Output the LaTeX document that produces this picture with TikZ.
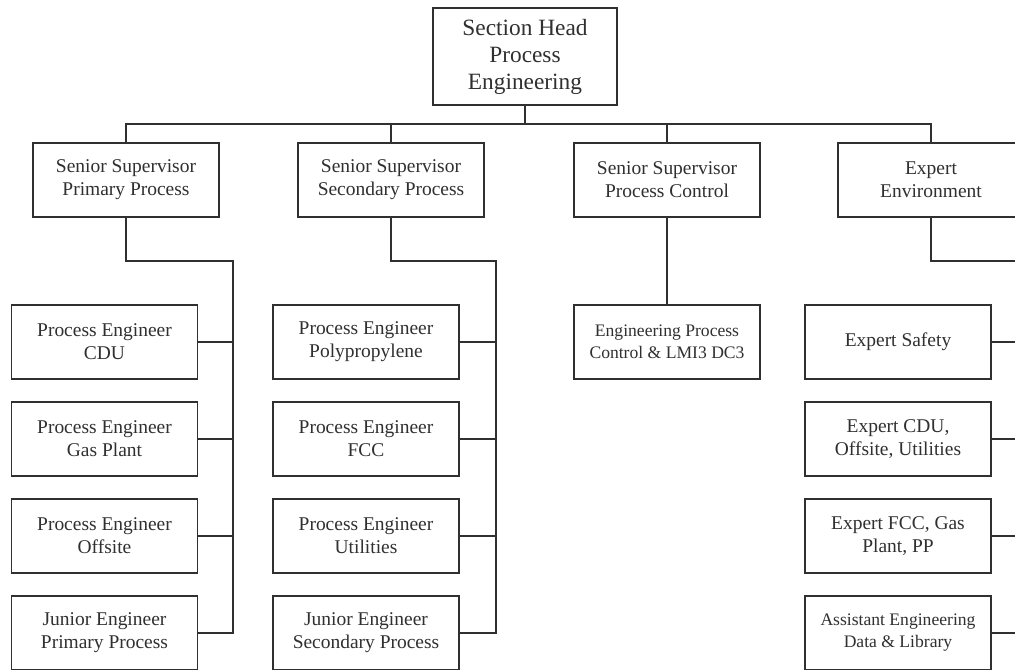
\documentclass[tikz,border=0pt]{standalone}
\usepackage{fontspec}
\setmainfont{Liberation Serif}
\definecolor{ink}{HTML}{303030}
\tikzset{
  post/.style={draw=ink, line width=1.4pt, fill=white, text=ink, align=center, inner sep=0pt,
    minimum width=139.5pt, minimum height=55.5pt, font=\fontsize{14.6}{17.3}\selectfont},
  smallpost/.style={post, font=\fontsize{13.2}{16.5}\selectfont},
  link/.style={draw=ink, line width=1.4pt}
}
\begin{document}
\begin{tikzpicture}[x=0.75pt,y=-0.75pt]
  \clip (0,0) rectangle (1015,669);
  \fill[white] (0,0) rectangle (1015,669);

  \node[post, minimum width=138pt, minimum height=72.75pt, font=\fontsize{17.5}{20.3}\selectfont]
    (head) at (525,56.5) {Section Head\\Process\\Engineering};

  \node[post] (supA) at (126,180) {Senior Supervisor\\Primary Process};
  \node[post] (supB) at (391,180) {Senior Supervisor\\Secondary Process};
  \node[post] (supC) at (667,180) {Senior Supervisor\\Process Control};
  \node[post] (supD) at (931,180) {Expert\\Environment};

  \node[post] (peA1) at (104.5,342) {Process Engineer\\CDU};
  \node[post] (peA2) at (104.5,439) {Process Engineer\\Gas Plant};
  \node[post] (peA3) at (104.5,536) {Process Engineer\\Offsite};
  \node[post] (peA4) at (104.5,633) {Junior Engineer\\Primary Process};

  \node[post] (peB1) at (366,342) {Process Engineer\\Polypropylene};
  \node[post] (peB2) at (366,439) {Process Engineer\\FCC};
  \node[post] (peB3) at (366,536) {Process Engineer\\Utilities};
  \node[post] (peB4) at (366,633) {Junior Engineer\\Secondary Process};

  \node[smallpost] (epc) at (667,342) {Engineering Process\\Control \& LMI3 DC3};

  \node[post] (exD1) at (898,342) {Expert Safety};
  \node[post] (exD2) at (898,439) {Expert CDU,\\Offsite, Utilities};
  \node[post] (exD3) at (898,536) {Expert FCC, Gas\\Plant, PP};
  \node[smallpost] (exD4) at (898,633) {Assistant Engineering\\Data \& Library};

  \coordinate (bus) at (525,124);
  \draw[link] (head) -- (bus);
  \draw[link] (supA.north) |- (bus) -| (supD.north);
  \draw[link] (supB.north) -- (supB.north |- bus);
  \draw[link] (supC.north) -- (supC.north |- bus);
  \draw[link] (supC.south) -- (epc.north);

  \coordinate (trunkA) at (233,261);
  \coordinate (trunkB) at (496,261);
  \coordinate (trunkD) at (1028,261);
  \draw[link] (supA.south) |- (trunkA) -- (trunkA |- peA4.east) -- (peA4.east);
  \draw[link] (supB.south) |- (trunkB) -- (trunkB |- peB4.east) -- (peB4.east);
  \draw[link] (supD.south) |- (trunkD) -- (trunkD |- exD4.east) -- (exD4.east);
  \foreach \i in {1,2,3} {
    \draw[link] (peA\i.east) -- (peA\i.east -| trunkA);
    \draw[link] (peB\i.east) -- (peB\i.east -| trunkB);
    \draw[link] (exD\i.east) -- (exD\i.east -| trunkD);
  }
\end{tikzpicture}
\end{document}
